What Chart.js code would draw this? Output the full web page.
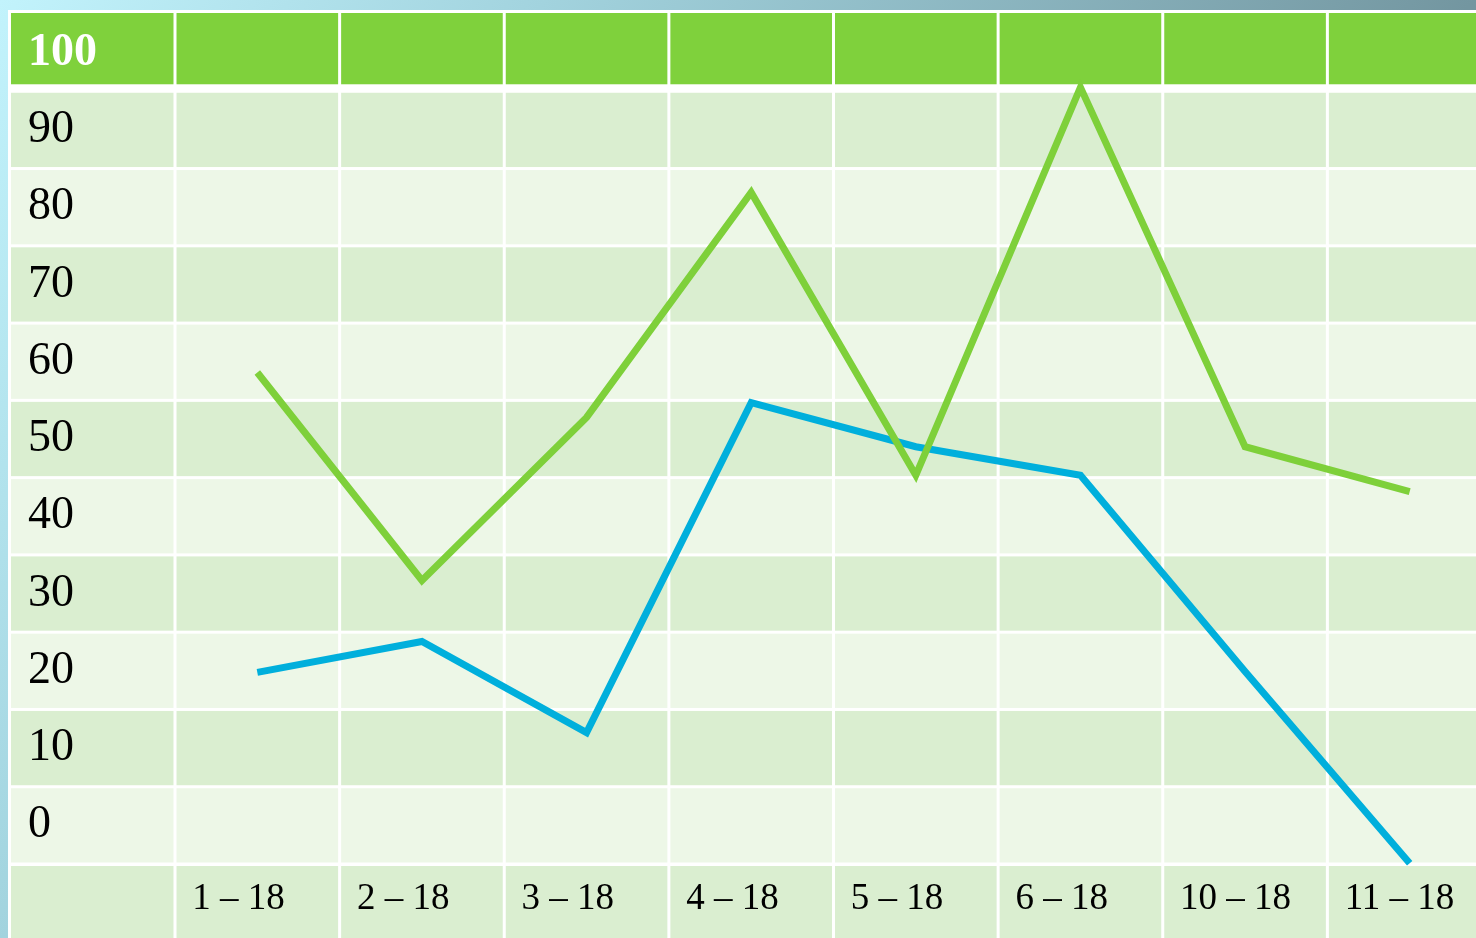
<!DOCTYPE html>
<html>
<head>
<meta charset="utf-8">
<script src="https://cdn.jsdelivr.net/npm/chart.js@4.4.1/dist/chart.umd.min.js"></script>
<style>
  html, body { margin:0; padding:0; width:1476px; height:938px; overflow:hidden; }
  body { background: linear-gradient(120deg, #c2f3fc 0%, #a2d3de 27%, #7396a0 73%, #6a8992 100%); }
  #wrap { position:absolute; left:0; top:0; width:1492px; height:938px; }
</style>
</head>
<body>
<div id="wrap"><canvas id="chart"></canvas></div>
<script>
const categories = ['1 – 18', '2 – 18', '3 – 18', '4 – 18', '5 – 18', '6 – 18', '10 – 18', '11 – 18'];
const yTicks = [0, 10, 20, 30, 40, 50, 60, 70, 80, 90, 100];
const greenValues = [58.6, 31.7, 52.8, 81.9, 45.3, 95.5, 49.0, 43.2];
const blueValues = [19.8, 23.8, 12.0, 54.7, 49.0, 45.3, 19.9, -4.9];

const headGreen = '#7fd13c';
const darkRow = '#daeed0';
const lightRow = '#edf7e7';

// table look: white frame, striped rows, bright header, white column rules
const tablePlugin = {
  id: 'table',
  beforeDraw(chart){
    const { ctx, width, height, scales: { x, y } } = chart;
    const left = 8, top = 10;
    ctx.save();
    ctx.fillStyle = '#fff';
    ctx.fillRect(left, top, width - left, height - top);
    yTicks.slice(0, -1).forEach((v, i) => {
      const y0 = y.getPixelForValue(v + 5), y1 = y.getPixelForValue(v - 5);
      ctx.fillStyle = i % 2 ? darkRow : lightRow;
      ctx.fillRect(left + 3, y0 + 1.5, width, y1 - y0 - 3);
    });
    const hb = y.getPixelForValue(95);
    ctx.fillStyle = headGreen;
    ctx.fillRect(left + 3, top + 3, width, hb - 7 - (top + 3));
    const lb = y.getPixelForValue(-5);
    ctx.fillStyle = darkRow;
    ctx.fillRect(left + 3, lb + 2, width, height - lb);
    const step = x.getPixelForValue(1) - x.getPixelForValue(0);
    const x0 = x.getPixelForValue(0) - step / 2;
    ctx.fillStyle = '#fff';
    for (let i = 0; i <= categories.length; i++) {
      ctx.fillRect(x0 + i * step - 1.5, top, 3, height);
    }
    ctx.restore();
  }
};

new Chart(document.getElementById('chart'), {
  type: 'line',
  data: {
    labels: categories,
    datasets: [
      { label: 'A', data: greenValues, borderColor: '#7ed03a', borderWidth: 7, pointRadius: 0, tension: 0, clip: false, borderJoinStyle: 'miter' },
      { label: 'B', data: blueValues, borderColor: '#00afdc', borderWidth: 7, pointRadius: 0, tension: 0, clip: false, borderJoinStyle: 'miter' }
    ]
  },
  options: {
    responsive: true,
    maintainAspectRatio: false,
    animation: false,
    layout: { padding: { left: 28, top: 14, right: 0, bottom: 0 } },
    plugins: { legend: { display: false }, tooltip: { enabled: false } },
    scales: {
      x: {
        type: 'category',
        offset: true,
        grid: { display: false, drawTicks: false },
        border: { display: false },
        ticks: {
          align: 'start', labelOffset: -65, padding: 13, autoSkip: false, maxRotation: 0,
          color: '#000', font: { family: 'Liberation Serif', size: 37 }
        },
        afterFit(s){ s.height = 74; s.paddingLeft = 0; s.paddingRight = 0; }
      },
      y: {
        type: 'linear',
        min: -5, max: 105,
        grid: { display: false, drawTicks: false },
        border: { display: false },
        afterBuildTicks(s){ s.ticks = yTicks.map(v => ({ value: v })); },
        ticks: {
          crossAlign: 'far', padding: 0,
          color: c => c.tick && c.tick.value === 100 ? '#fff' : '#000',
          font: c => ({ family: 'Liberation Serif', size: 46, weight: c.tick && c.tick.value === 100 ? 'bold' : 'normal' })
        },
        afterFit(s){ s.width = 147; s.paddingTop = 0; s.paddingBottom = 0; }
      }
    }
  },
  plugins: [tablePlugin]
});
</script>
</body>
</html>
